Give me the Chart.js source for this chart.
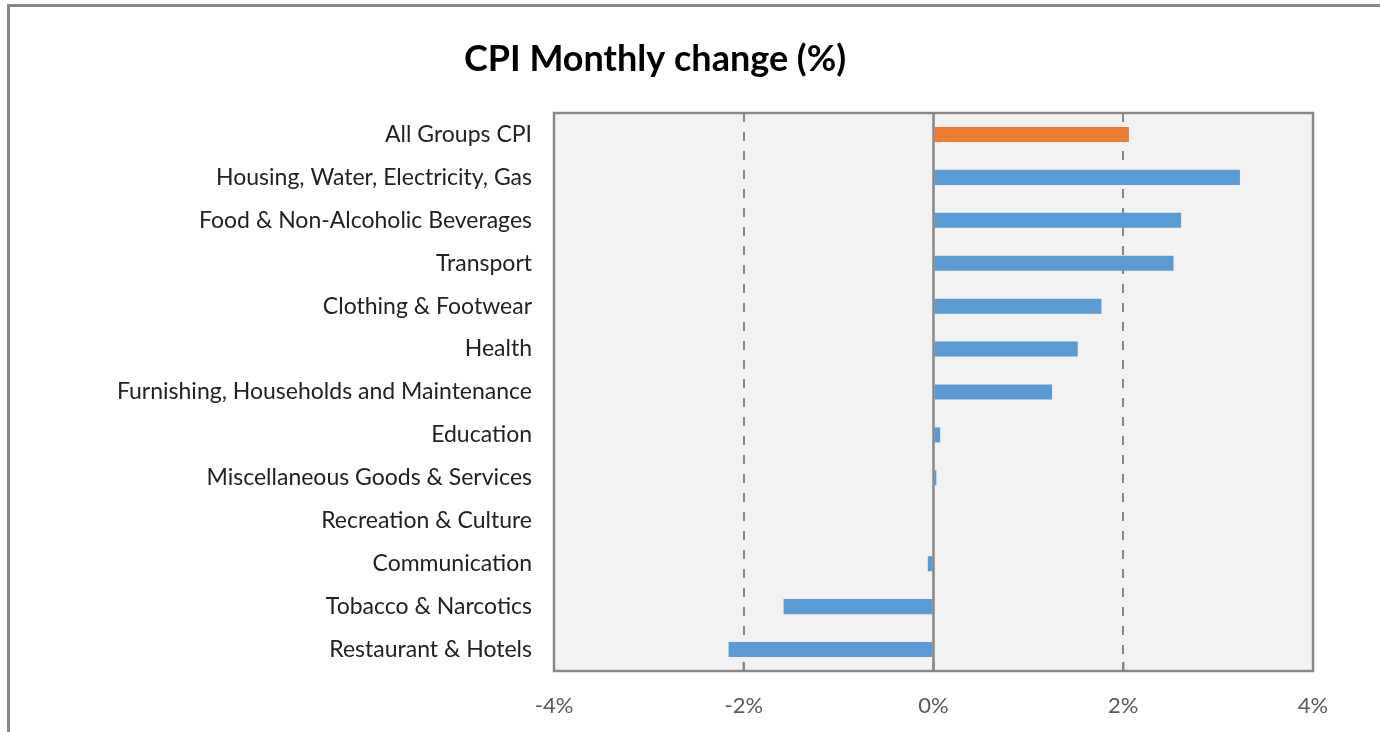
<!DOCTYPE html>
<html lang="en">
<head>
<meta charset="UTF-8">
<title>CPI Monthly change (%)</title>
<script src="https://cdn.jsdelivr.net/npm/chart.js@4/dist/chart.umd.min.js"></script>
<style>
  html, body { margin: 0; padding: 0; background: #fff; overflow: hidden; }
  #wrap { position: relative; width: 1380px; height: 732px; }
  #frame {
    position: absolute; left: 7px; top: 4px; width: 1370px; height: 740px;
    border-top: 3px solid #888; border-left: 3px solid #888; border-right: 1px solid #aaa;
  }
  canvas { position: absolute; left: 0; top: 0; }
</style>
</head>
<body>
<div id="wrap">
  <div id="frame"></div>
  <canvas id="chart" width="1380" height="732"></canvas>
</div>
<script>
'use strict';

// Categorías (de arriba hacia abajo)
const categorias = [
  'All Groups CPI',
  'Housing, Water, Electricity, Gas',
  'Food & Non-Alcoholic Beverages',
  'Transport',
  'Clothing & Footwear',
  'Health',
  'Furnishing, Households and Maintenance',
  'Education',
  'Miscellaneous Goods & Services',
  'Recreation & Culture',
  'Communication',
  'Tobacco & Narcotics',
  'Restaurant & Hotels'
];

// Cambio mensual (%)
const cambioMensual = [2.06, 3.23, 2.61, 2.53, 1.77, 1.52, 1.25, 0.07, 0.03, 0, -0.06, -1.58, -2.16];

// Marcas del eje X (%)
const ticksX = [-4, -2, 0, 2, 4];

const AZUL = '#5b9bd5';
const NARANJA = '#ed7d31';
const GRIS = '#888888';
const FUENTE = 'Lato, "Open Sans", sans-serif';

const fondoYMarco = {
  id: 'fondoYMarco',
  beforeDraw(chart) {
    const { ctx, chartArea: a } = chart;
    ctx.save();
    ctx.fillStyle = '#f2f2f2';
    ctx.fillRect(a.left, a.top, a.right - a.left, a.bottom - a.top);
    ctx.restore();
  },
  afterDatasetsDraw(chart) {
    const { ctx, chartArea: a, scales } = chart;
    const x0 = scales.x.getPixelForValue(0);
    ctx.save();
    ctx.strokeStyle = GRIS;
    ctx.lineWidth = 2.5;
    // línea del cero
    ctx.beginPath();
    ctx.moveTo(x0, a.top);
    ctx.lineTo(x0, a.bottom);
    ctx.stroke();
    // marcas internas del eje inferior
    ticksX.slice(1, -1).forEach(v => {
      const px = scales.x.getPixelForValue(v);
      ctx.beginPath();
      ctx.moveTo(px, a.bottom);
      ctx.lineTo(px, a.bottom - 9);
      ctx.stroke();
    });
    // marco del área de trazado
    ctx.strokeRect(a.left, a.top, a.right - a.left, a.bottom - a.top);
    ctx.restore();
  },
  afterDraw(chart) {
    const { ctx } = chart;
    ctx.save();
    ctx.fillStyle = '#000';
    ctx.font = 'bold 36px ' + FUENTE;
    ctx.textAlign = 'center';
    ctx.textBaseline = 'middle';
    ctx.fillText('CPI Monthly change (%)', 655, 59);
    ctx.restore();
  }
};

new Chart(document.getElementById('chart'), {
  type: 'bar',
  data: {
    labels: categorias,
    datasets: [{
      data: cambioMensual,
      backgroundColor: cambioMensual.map((v, i) => i === 0 ? NARANJA : AZUL),
      borderWidth: 0,
      barPercentage: 0.35,
      categoryPercentage: 1
    }]
  },
  plugins: [fondoYMarco],
  options: {
    indexAxis: 'y',
    responsive: false,
    animation: false,
    layout: { padding: { top: 113, right: 67, left: 0, bottom: 0 } },
    plugins: {
      legend: { display: false },
      tooltip: { enabled: false },
      title: { display: false }
    },
    scales: {
      x: {
        min: -4,
        max: 4,
        afterBuildTicks: scale => { scale.ticks = ticksX.map(v => ({ value: v })); },
        afterFit: scale => { scale.height = 61; },
        grid: {
          drawTicks: false,
          lineWidth: 2,
          color: ctx => (ctx.tick && Math.abs(ctx.tick.value) === 2) ? GRIS : 'rgba(0,0,0,0)'
        },
        border: { display: false, dash: [9, 10] },
        ticks: {
          padding: 22,
          color: '#595959',
          font: { family: FUENTE, size: 22 },
          callback: v => v + '%'
        }
      },
      y: {
        afterFit: scale => { scale.width = 554; },
        grid: { display: false, drawTicks: false },
        border: { display: false },
        ticks: {
          padding: 22,
          color: '#222',
          font: { family: FUENTE, size: 23 }
        }
      }
    }
  }
});
</script>
</body>
</html>
